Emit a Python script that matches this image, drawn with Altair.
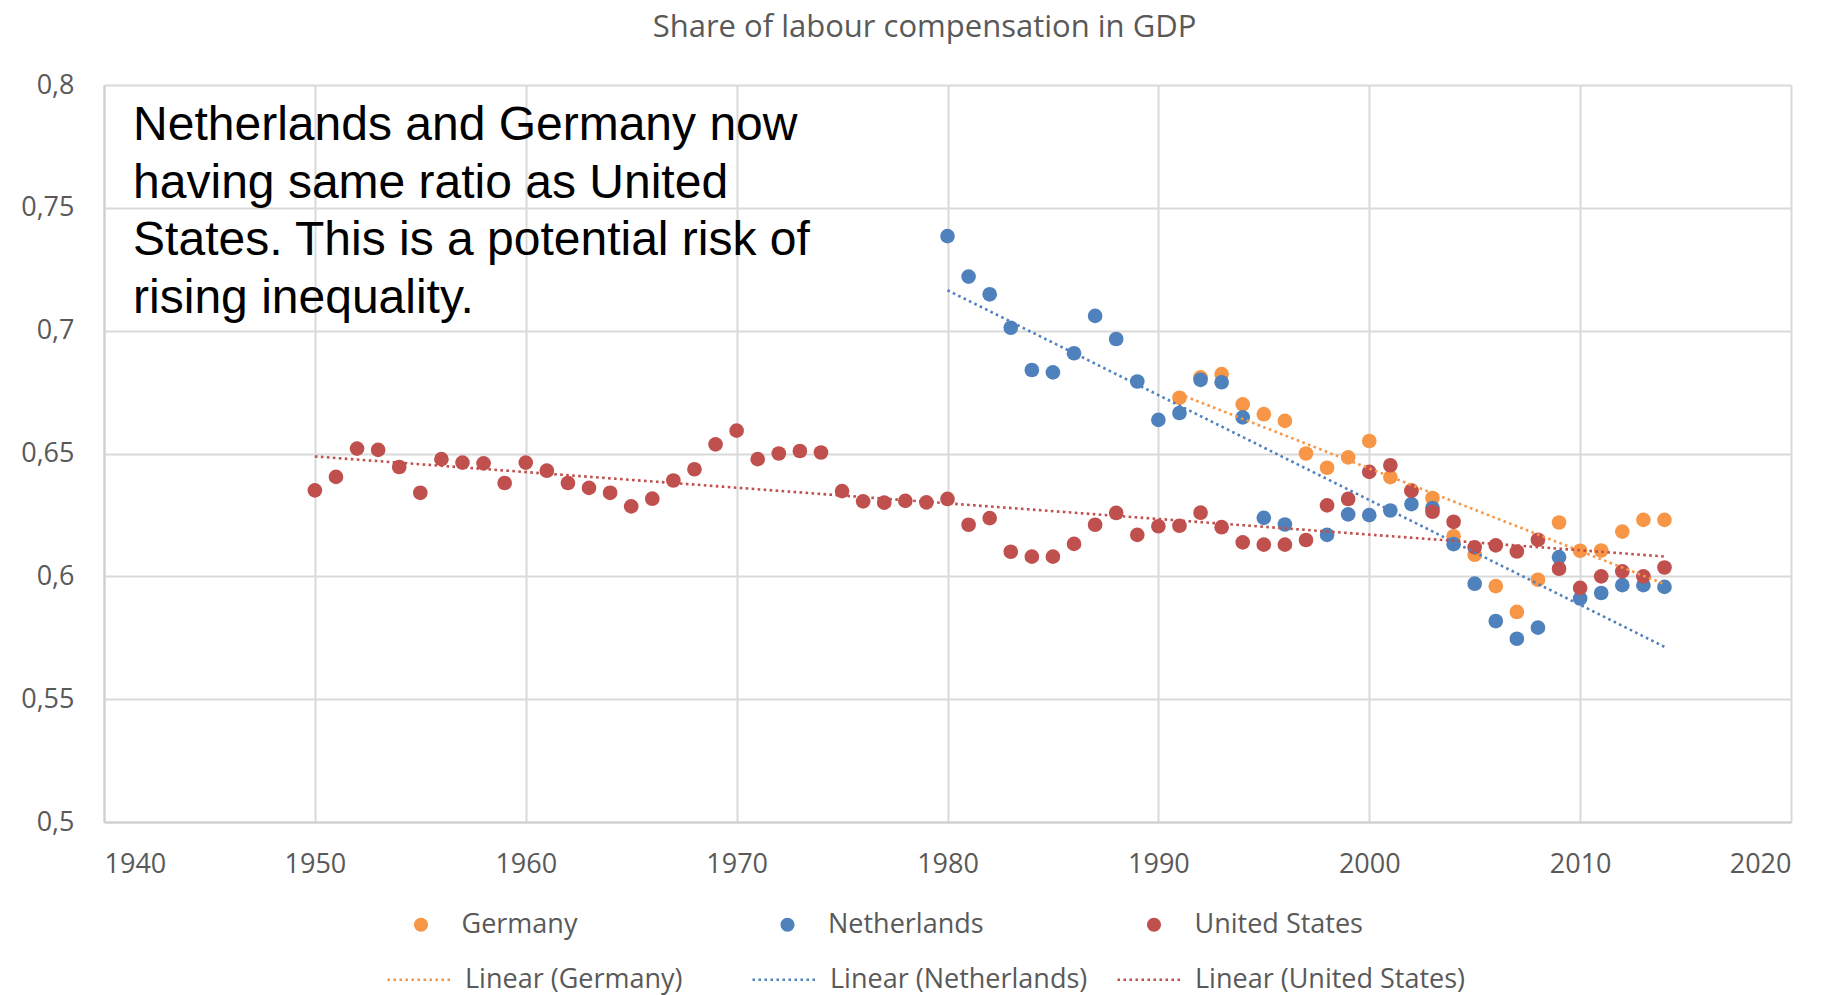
import altair as alt
import pandas as pd

countries = ["Germany", "Netherlands", "United States"]
trend_names = ["Linear (Germany)", "Linear (Netherlands)", "Linear (United States)"]
colors = ["#F79646", "#4F81BD", "#C0504D"]

germany_years = list(range(1991, 2015))
germany_values = [0.6727, 0.681, 0.6823, 0.670, 0.666, 0.6633, 0.650, 0.6442, 0.6484, 0.6551,
                  0.6404, 0.635, 0.6319, 0.6163, 0.6088, 0.596, 0.5855, 0.5986, 0.6219, 0.6104,
                  0.6105, 0.6182, 0.623, 0.623]

nl_years = list(range(1980, 1997)) + list(range(1998, 2015))
nl_values = [0.7385, 0.722, 0.7148, 0.7012, 0.684, 0.683, 0.6908, 0.706, 0.6966, 0.6793,
             0.6637, 0.6665, 0.680, 0.679, 0.6647, 0.6238, 0.6211,
             0.6169, 0.6252, 0.6249, 0.6268, 0.6294, 0.6278, 0.6131, 0.597, 0.5818,
             0.5746, 0.5791, 0.6078, 0.591, 0.5932, 0.5964, 0.5964, 0.5957]

us_years = list(range(1950, 2015))
us_values = [0.635, 0.6405, 0.652, 0.6515, 0.6445, 0.634, 0.6477, 0.6463, 0.646, 0.638,
             0.6463, 0.643, 0.638, 0.636, 0.634, 0.6285, 0.6316, 0.639, 0.6436, 0.6537,
             0.6593, 0.6477, 0.650, 0.651, 0.6504, 0.6347, 0.6305, 0.630, 0.6307, 0.6301,
             0.6315, 0.621, 0.6237, 0.610, 0.608, 0.608, 0.6132, 0.621, 0.6258, 0.6169,
             0.6204, 0.6206, 0.6259, 0.620, 0.6138, 0.6129, 0.6129, 0.6148, 0.6289, 0.6315,
             0.6425, 0.6452, 0.6348, 0.6263, 0.6222, 0.6118, 0.6126, 0.6101, 0.6149, 0.6031,
             0.5953, 0.600, 0.602, 0.600, 0.6036]

x_ticks = [1940, 1950, 1960, 1970, 1980, 1990, 2000, 2010, 2020]
y_ticks = [0.5, 0.55, 0.6, 0.65, 0.7, 0.75, 0.8]

title_text = "Share of labour compensation in GDP"
note_text = ("Netherlands and Germany now\nhaving same ratio as United\n"
             "States. This is a potential risk of\nrising inequality.")
note_x = [1941.38]
note_y = [0.7776]

rows = []
for name, yrs, vals in [("Germany", germany_years, germany_values),
                        ("Netherlands", nl_years, nl_values),
                        ("United States", us_years, us_values)]:
    for yv, v in zip(yrs, vals):
        rows.append({"Country": name, "Year": yv, "Value": v})
df = pd.DataFrame(rows)
note_df = pd.DataFrame({"nx": note_x, "ny": note_y, "txt": [note_text]})

GRAY = "#595959"
FONT = "Open Sans"

x_enc = alt.X("Year:Q", scale=alt.Scale(domain=[1940, 2020], nice=False, zero=False),
              axis=alt.Axis(values=x_ticks, format="d", title=None))
y_enc = alt.Y("Value:Q", scale=alt.Scale(domain=[0.5, 0.8], nice=False, zero=False),
              axis=alt.Axis(values=y_ticks, title=None,
                            labelExpr="replace(format(datum.value, '.2~f'), '.', ',')"))

points = alt.Chart(df).mark_circle(size=215, opacity=1).encode(
    x=x_enc, y=y_enc,
    fill=alt.Fill("Country:N", scale=alt.Scale(domain=countries, range=colors),
                  legend=alt.Legend(title=None, orient="none", legendX=303.5, legendY=826,
                                    direction="horizontal", columns=3, gridAlign="all",
                                    columnPadding=143.5, symbolType="circle", symbolSize=200,
                                    symbolStrokeWidth=0, labelFont=FONT, labelFontSize=27,
                                    labelColor=GRAY, labelOffset=27, labelLimit=400,
                                    padding=0)),
)

lines = alt.Chart(df).transform_regression(
    "Year", "Value", groupby=["Country"]
).transform_calculate(
    Trend="'Linear (' + datum.Country + ')'"
).mark_line(strokeWidth=2.6, strokeDash=[2.6, 3.4]).encode(
    x=x_enc, y=y_enc,
    stroke=alt.Stroke("Trend:N", scale=alt.Scale(domain=trend_names, range=colors),
                      legend=alt.Legend(title=None, orient="none", legendX=282, legendY=860,
                                        direction="horizontal", columns=3, gridAlign="all",
                                        columnPadding=11, symbolType="stroke", symbolSize=4356,
                                        symbolStrokeWidth=2.5, symbolDash=[2.5, 3.5],
                                        labelFont=FONT, labelFontSize=27, labelColor=GRAY,
                                        labelOffset=10, labelLimit=400, padding=0)),
)

note = alt.Chart(note_df).mark_text(
    align="left", baseline="alphabetic", font="Liberation Sans", fontSize=48,
    lineHeight=57.5, lineBreak="\n", color="#000000"
).encode(x=alt.X("nx:Q"), y=alt.Y("ny:Q"), text="txt:N")

chart = alt.layer(points, lines, note).properties(
    width=1687, height=737,
    padding={"left": 96, "top": 77, "right": 20, "bottom": 173},
    autosize=alt.AutoSizeParams(type="none"),
    title=alt.TitleParams(text=title_text, font=FONT, fontSize=31, fontWeight="normal",
                          color=GRAY, anchor="middle", dx=-23, offset=27),
).configure_view(strokeWidth=0).configure_axis(
    grid=True, gridColor="#d9d9d9", gridWidth=2, ticks=False, tickSize=0,
    domainColor="#d0d0d0", domainWidth=2,
    labelFont=FONT, labelFontSize=27, labelColor=GRAY,
).configure_axisX(labelPadding=29).configure_axisY(labelPadding=30)

chart.save("out.html", embed_options={"renderer": "svg", "actions": False})
